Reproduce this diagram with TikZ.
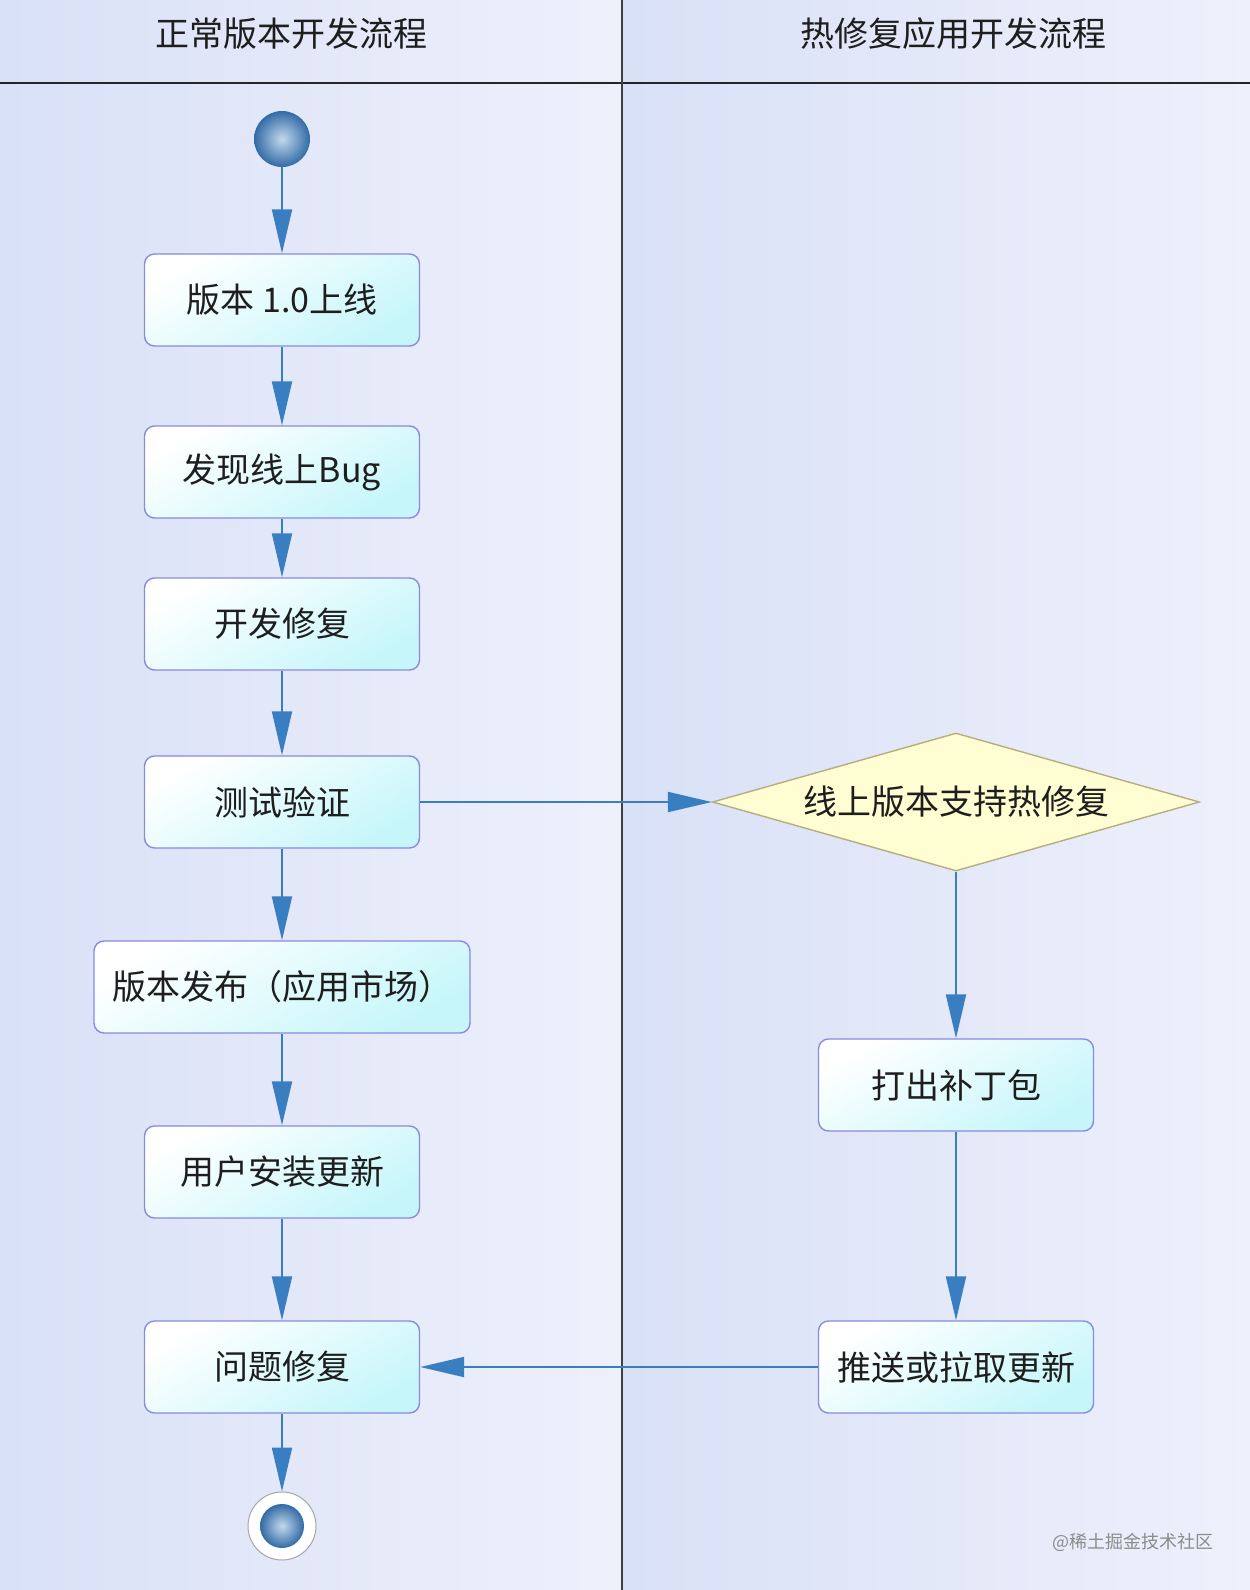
\documentclass[tikz,border=0pt]{standalone}
\usepackage{fontspec}
\setmainfont{Noto Sans CJK SC}
\usetikzlibrary{arrows.meta,shapes.geometric}
\definecolor{flow}{HTML}{3A7EC2}
\definecolor{bgA}{HTML}{D9E1F7}
\definecolor{bgB}{HTML}{EEF0FB}
\definecolor{boxline}{HTML}{8A8ADF}
\definecolor{boxcyan}{HTML}{C6F6FA}
\definecolor{txt}{HTML}{1E1E1E}
\definecolor{dmfill}{HTML}{FFFDD2}
\definecolor{dmline}{HTML}{B5AE7E}
\tikzset{
  actbox/.style={rectangle, rounded corners=10pt, draw=boxline, line width=1.4pt,
    top color=white, bottom color=boxcyan, shading angle=30,
    minimum width=275pt, minimum height=92pt, inner sep=0pt,
    font=\fontsize{34}{34}\selectfont, text=txt},
  decide/.style={diamond, aspect=3.53, draw=dmline, line width=1.4pt, fill=dmfill,
    minimum width=487pt, minimum height=138pt, inner sep=0pt,
    font=\fontsize{34}{34}\selectfont, text=txt},
  conn/.style={draw=flow, line width=2pt, -{Triangle[length=44pt,width=20pt]}},
  lanetitle/.style={font=\fontsize{34}{34}\selectfont, text=txt}
}
\begin{document}
\begin{tikzpicture}[x=1pt,y=-1pt]
\useasboundingbox (0,0) rectangle (1250,1590);
% lanes background
\shade[left color=bgA, right color=bgB] (0,0) rectangle (622,1590);
\shade[left color=bgA, right color=bgB] (622,0) rectangle (1250,1590);
% lane separators
\draw[line width=2.5pt, draw=black!85] (0,83) -- (1250,83);
\draw[line width=2pt, draw=black!75] (622,0) -- (622,1590);
% titles
\node[lanetitle] (t1) at (291,34) {正常版本开发流程};
\node[lanetitle] (t2) at (953,34) {热修复应用开发流程};
% start
\node[circle, minimum size=56pt, inner sep=0pt, inner color=white!70!flow, outer color=flow!85!black] (start) at (282,139) {};
% boxes
\node[actbox] (b1) at (282,300) {版本\ 1.0上线};
\node[actbox] (b2) at (282,472) {发现线上Bug};
\node[actbox] (b3) at (282,624) {开发修复};
\node[actbox] (b4) at (282,802) {测试验证};
\node[actbox, minimum width=376pt] (b5) at (282,987) {版本发布（应用市场）};
\node[actbox] (b6) at (282,1172) {用户安装更新};
\node[actbox] (b7) at (282,1367) {问题修复};
\node[decide] (d1) at (956,802) {线上版本支持热修复};
\node[actbox] (b8) at (956,1085) {打出补丁包};
\node[actbox] (b9) at (956,1367) {推送或拉取更新};
% end
\node[circle, minimum size=68pt, inner sep=0pt, fill=white, draw=black!35, line width=1pt] (endo) at (282,1526) {};
\node[circle, minimum size=44pt, inner sep=0pt, inner color=white!70!flow, outer color=flow!85!black] (endi) at (282,1526) {};
% connectors
\draw[conn] (start) -- (b1);
\draw[conn] (b1) -- (b2);
\draw[conn] (b2) -- (b3);
\draw[conn] (b3) -- (b4);
\draw[conn] (b4) -- (b5);
\draw[conn] (b5) -- (b6);
\draw[conn] (b6) -- (b7);
\draw[conn] (b7) -- (endo);
\draw[conn] (b4.east) -- (d1.west);
\draw[conn] (d1) -- (b8);
\draw[conn] (b8) -- (b9);
\draw[conn] (b9.west) -- (b7.east);
% watermark
\node[font=\fontsize{18}{18}\selectfont, text=black!45] (wm) at (1133,1542) {@稀土掘金技术社区};
\end{tikzpicture}
\end{document}
